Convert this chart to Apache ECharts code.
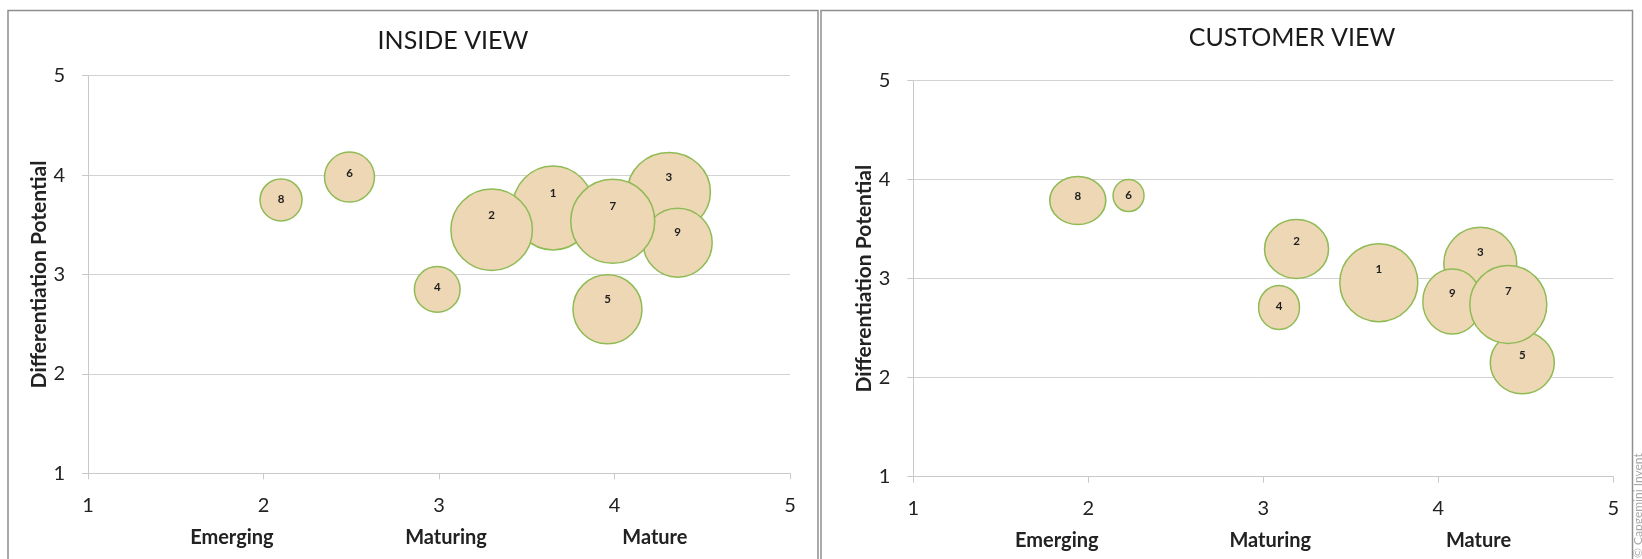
<!DOCTYPE html>
<html><head><meta charset="utf-8">
<script src="https://cdn.jsdelivr.net/npm/echarts@6/dist/echarts.min.js"></script>
<style>html,body{margin:0;padding:0;background:#fff}#c{width:1642px;height:559px}</style>
</head><body><div id="c"></div>
<script>
// ---- data ----
const panelTitles = ['INSIDE VIEW', 'CUSTOMER VIEW'];
const yAxisName = 'Differentiation Potential';
const stageLabels = ['Emerging', 'Maturing', 'Mature'];
const stageAnchors = [1.82, 3.04, 4.23];
const copyrightText = '\u00A9 Capgemini Invent';

// bubbles listed in drawing order (later ones on top)
const bubbleLabels = ['1', '2', '3', '4', '5', '6', '8', '9', '7'];

const insideX = [3.65, 3.30, 4.31, 2.99, 3.96, 2.49, 2.10, 4.36, 3.99];
const insideY = [3.67, 3.45, 3.83, 2.85, 2.65, 3.98, 3.75, 3.32, 3.535];
const insideW = [81, 81.5, 83, 45.7, 69, 50, 42, 69, 84];
const insideH = [84, 81.5, 79, 45.7, 69, 50, 42, 69, 84];

const customerX = [3.66, 3.19, 4.24, 3.09, 4.48, 2.23, 1.94, 4.08, 4.40];
const customerY = [2.96, 3.30, 3.15, 2.71, 2.15, 3.84, 3.79, 2.77, 2.74];
const customerW = [78, 64, 73, 41, 64, 31, 56, 59, 77];
const customerH = [78, 59, 73, 44, 62, 32, 48, 65, 78];

// ---- chart ----
const FONT = 'Lato, "Open Sans", sans-serif';
const grids = [
  { left: 88, top: 75.7, width: 702, height: 397.6 },
  { left: 913.3, top: 80.7, width: 700, height: 396 }
];

function buildItems(xs, ys, ws, hs) {
  return bubbleLabels.map((lab, i) => {
    const d = (ws[i] + hs[i]) / 2;
    return {
      name: lab,
      value: [xs[i], ys[i]],
      symbolSize: [ws[i], hs[i]],
      label: { offset: [0, -Math.max(0, (d - 40) * 0.35)] }
    };
  });
}

function valueAxis(gi, isX) {
  const ax = {
    gridIndex: gi, type: 'value', min: 1, max: 5, interval: 1,
    axisLine: { show: true, lineStyle: { color: '#c9c9c9', width: 1 } },
    axisTick: { show: true, length: 6, lineStyle: { color: '#c9c9c9' } },
    axisLabel: { fontSize: 20, color: '#222', fontFamily: FONT, margin: isX ? 22 : 23 },
    splitLine: { show: !isX, lineStyle: { color: '#d2d2d2', width: 1 } }
  };
  if (!isX) {
    ax.name = yAxisName;
    ax.nameLocation = 'middle';
    ax.nameRotate = 90;
    ax.nameGap = 29;
    ax.nameTextStyle = { fontSize: 21, fontWeight: 'bold', color: '#222', fontFamily: FONT };
  }
  return ax;
}

function stageAxis(gi) {
  return {
    gridIndex: gi, type: 'value', min: 1, max: 5, position: 'bottom',
    axisLine: { show: false }, axisTick: { show: false }, splitLine: { show: false },
    axisLabel: {
      customValues: stageAnchors,
      formatter: function (v) {
        let best = 0;
        stageAnchors.forEach((a, i) => { if (Math.abs(a - v) < Math.abs(stageAnchors[best] - v)) best = i; });
        return stageLabels[best];
      },
      fontSize: 20, fontWeight: 'bold', color: '#222', fontFamily: FONT, margin: 54
    }
  };
}

function bubbleSeries(gi, items) {
  return {
    type: 'scatter', xAxisIndex: gi * 2, yAxisIndex: gi,
    data: items,
    itemStyle: { color: '#eed7b5', borderColor: '#8fbb55', borderWidth: 1.5, opacity: 1 },
    label: { show: true, position: 'inside', formatter: p => p.name,
      fontSize: 11.5, fontWeight: 'bold', color: '#1e1e1e', fontFamily: FONT },
    emphasis: { disabled: true },
    silent: true
  };
}

const chart = echarts.init(document.getElementById('c'), null, { renderer: 'canvas' });
chart.setOption({
  animation: false,
  backgroundColor: '#fff',
  title: [
    { text: panelTitles[0], left: 448, top: 23, textAlign: 'center',
      textStyle: { fontSize: 25, fontWeight: 'normal', color: '#1a1a1a', fontFamily: FONT } },
    { text: panelTitles[1], left: 1287, top: 20, textAlign: 'center',
      textStyle: { fontSize: 25, fontWeight: 'normal', color: '#1a1a1a', fontFamily: FONT } }
  ],
  grid: grids,
  xAxis: [valueAxis(0, true), stageAxis(0), valueAxis(1, true), stageAxis(1)],
  yAxis: [valueAxis(0, false), valueAxis(1, false)],
  series: [
    bubbleSeries(0, buildItems(insideX, insideY, insideW, insideH)),
    bubbleSeries(1, buildItems(customerX, customerY, customerW, customerH))
  ],
  graphic: [
    { type: 'rect', shape: { x: 8, y: 10.5, width: 810, height: 600 }, silent: true,
      style: { fill: 'none', stroke: '#8e8e8e', lineWidth: 1.5 } },
    { type: 'rect', shape: { x: 821, y: 10.5, width: 811.5, height: 600 }, silent: true,
      style: { fill: 'none', stroke: '#8e8e8e', lineWidth: 1.5 } },
    { type: 'text', x: 1638, y: 558, rotation: Math.PI / 2, silent: true,
      style: { text: copyrightText, fontSize: 12, fill: '#a8a8a8', fontFamily: FONT,
        align: 'left', verticalAlign: 'middle' } }
  ]
});
</script></body></html>
